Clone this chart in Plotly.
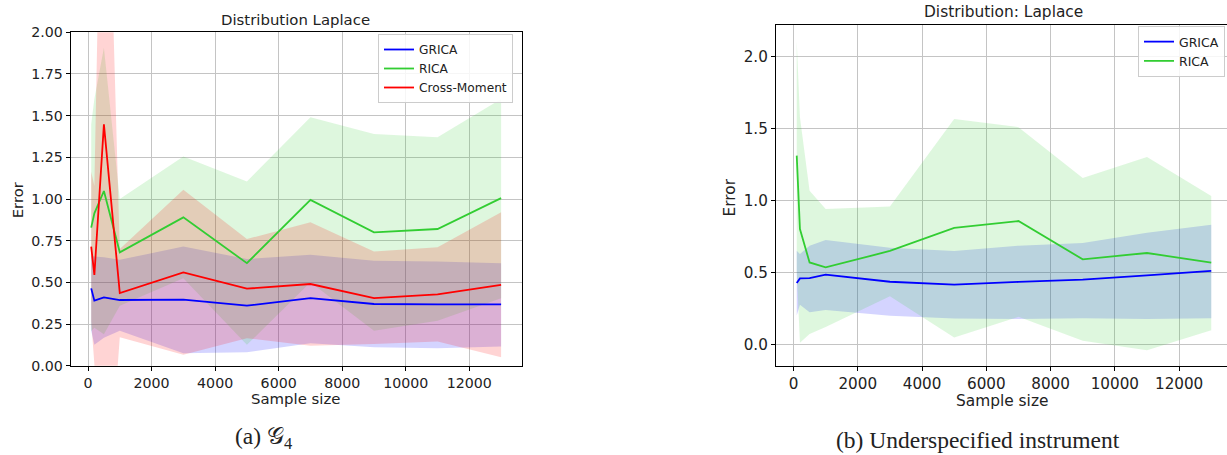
import plotly.graph_objects as go

W, H = 1227, 455

# ---------------- data ----------------
sample_sizes = [100, 200, 500, 1000, 3000, 5000, 7000, 9000, 11000, 13000]

# (a) G4 panel
a_grica_mean = [0.464, 0.390, 0.410, 0.394, 0.396, 0.360, 0.405, 0.370, 0.368, 0.368]
a_grica_up   = [0.660, 0.655, 0.650, 0.635, 0.715, 0.640, 0.665, 0.630, 0.625, 0.615]
a_grica_lo   = [0.210, 0.125, 0.168, 0.210, 0.075, 0.080, 0.135, 0.110, 0.105, 0.115]

a_rica_mean = [0.828, 0.914, 1.048, 0.680, 0.890, 0.615, 0.995, 0.800, 0.820, 1.005]
a_rica_up   = [1.448, 1.600, 1.908, 1.000, 1.255, 1.105, 1.490, 1.390, 1.370, 1.600]
a_rica_lo   = [0.208, 0.228, 0.188, 0.360, 0.525, 0.125, 0.500, 0.210, 0.270, 0.405]

a_cm_mean = [0.714, 0.544, 1.448, 0.436, 0.560, 0.462, 0.490, 0.405, 0.428, 0.485]
a_cm_up   = [1.164, 1.080, 4.040, 0.700, 1.055, 0.760, 0.860, 0.685, 0.710, 0.920]
a_cm_lo   = [0.264, 0.010, -1.140, 0.170, 0.065, 0.165, 0.120, 0.130, 0.145, 0.050]

# (b) Underspecified instrument panel
b_grica_mean = [0.425, 0.457, 0.459, 0.483, 0.434, 0.414, 0.433, 0.449, 0.479, 0.509]
b_grica_up   = [0.650, 0.627, 0.684, 0.724, 0.671, 0.648, 0.685, 0.704, 0.775, 0.831]
b_grica_lo   = [0.200, 0.274, 0.222, 0.237, 0.197, 0.178, 0.175, 0.180, 0.175, 0.180]

b_rica_mean = [1.311, 0.800, 0.568, 0.534, 0.648, 0.808, 0.856, 0.590, 0.634, 0.567]
b_rica_up   = [2.110, 1.578, 1.067, 0.940, 0.958, 1.565, 1.509, 1.155, 1.301, 1.030]
b_rica_lo   = [0.510, 0.010, 0.070, 0.120, 0.333, 0.046, 0.190, 0.023, -0.042, 0.097]

y_ticks_a = [0, 0.25, 0.5, 0.75, 1.0, 1.25, 1.5, 1.75, 2.0]
y_ticks_b = [0.0, 0.5, 1.0, 1.5, 2.0]
x_ticks = [0, 2000, 4000, 6000, 8000, 10000, 12000]

BLUE = "#0000ff"
GREEN = "#32cd32"
RED = "#ff0000"
FILLS = {BLUE: "rgba(0,0,255,0.17)", GREEN: "rgba(50,205,50,0.16)", RED: "rgba(255,0,0,0.17)"}

def px_x(p):
    return p / W

def px_y(p):
    return 1 - p / H

fig = go.Figure()

def add_series(xa, ya, mean, up, lo, color, name, legend):
    fig.add_trace(go.Scatter(
        x=sample_sizes + sample_sizes[::-1], y=up + lo[::-1],
        fill="toself", fillcolor=FILLS[color], line=dict(width=0),
        mode="lines", hoverinfo="skip", showlegend=False, xaxis=xa, yaxis=ya))
    return dict(x=sample_sizes, y=mean, mode="lines", name=name,
                line=dict(color=color, width=1.8), xaxis=xa, yaxis=ya, legend=legend)

lines = []
lines.append(add_series("x", "y", a_grica_mean, a_grica_up, a_grica_lo, BLUE, "GRICA", "legend"))
lines.append(add_series("x", "y", a_rica_mean, a_rica_up, a_rica_lo, GREEN, "RICA", "legend"))
lines.append(add_series("x", "y", a_cm_mean, a_cm_up, a_cm_lo, RED, "Cross-Moment", "legend"))
lines.append(add_series("x2", "y2", b_grica_mean, b_grica_up, b_grica_lo, BLUE, "GRICA", "legend2"))
lines.append(add_series("x2", "y2", b_rica_mean, b_rica_up, b_rica_lo, GREEN, "RICA", "legend2"))
for l in lines:
    fig.add_trace(go.Scatter(**l))

# axis ranges (matplotlib-like 5% margins)
xmin, xmax = min(sample_sizes), max(sample_sizes)
xm = 0.05 * (xmax - xmin)
bmin = min(b_rica_lo + b_grica_lo)
bmax = max(b_rica_up + b_grica_up)
bm = 0.05 * (bmax - bmin)

GRID = "#c4c4c4"
FONT = "DejaVu Sans"

def xaxis_common(fs):
    return dict(tickmode="array", tickvals=x_ticks, tickformat="d", automargin=False,
                showgrid=True, gridcolor=GRID, gridwidth=1.3, zeroline=False,
                showline=True, linecolor="black", linewidth=1.2, mirror=True,
                ticks="outside", ticklen=4, tickcolor="black", tickwidth=1,
                tickfont=dict(family=FONT, size=fs, color="#222"))

def yaxis_common(fs, tv, fmt, mirror):
    return dict(tickmode="array", tickvals=tv, tickformat=fmt, automargin=False,
                showgrid=True, gridcolor=GRID, gridwidth=1.3, zeroline=False,
                showline=True, linecolor="black", linewidth=1.2, mirror=mirror,
                ticks="outside", ticklen=4, tickcolor="black", tickwidth=1,
                tickfont=dict(family=FONT, size=fs, color="#222"))

fig.update_layout(
    width=W, height=H, margin=dict(l=0, r=0, t=0, b=0, autoexpand=False),
    paper_bgcolor="white", plot_bgcolor="white",
    xaxis=dict(domain=[px_x(70.7), px_x(521.6)], range=[xmin - xm, xmax + xm],
               anchor="y", **xaxis_common(14.2)),
    yaxis=dict(domain=[px_y(365.7), px_y(32.3)], range=[0, 2.0], anchor="x",
               **yaxis_common(14.2, y_ticks_a, ".2f", True)),
    xaxis2=dict(domain=[px_x(776), 1.0],
                range=[xmin - xm, (1227 - 793.3) / 0.03215],
                anchor="y2", **xaxis_common(15.2)),
    yaxis2=dict(domain=[px_y(365.7), px_y(25.2)], range=[bmin - bm, bmax + bm],
                anchor="x2", **yaxis_common(15.2, y_ticks_b, ".1f", False)),
    legend=dict(x=px_x(513), y=px_y(34), xanchor="right", yanchor="top",
                bgcolor="rgba(255,255,255,0.85)", bordercolor="#cccccc", borderwidth=1,
                font=dict(family=FONT, size=12.2, color="#222"), itemwidth=30,
                tracegroupgap=0),
    legend2=dict(x=px_x(1225), y=px_y(26), xanchor="right", yanchor="top",
                 bgcolor="rgba(255,255,255,0.85)", bordercolor="#cccccc", borderwidth=1,
                 font=dict(family=FONT, size=12.5, color="#222"), itemwidth=30,
                 tracegroupgap=0),
    showlegend=True,
)

def ann(text, x, y, size, family=FONT, angle=0):
    fig.add_annotation(text=text, x=px_x(x), y=px_y(y), xref="paper", yref="paper",
                       showarrow=False, xanchor="center", yanchor="middle",
                       textangle=angle, font=dict(family=family, size=size, color="#222"))

ann("Distribution Laplace", 295, 20, 14.9)
ann("Sample size", 295, 399, 14.9)
ann("Error", 18.3, 200, 14.9, angle=-90)
ann("Distribution: Laplace", 1003, 12, 15.4)
ann("Sample size", 1002, 401, 15.4)
ann("Error", 729.5, 198, 15.4, angle=-90)
ann("(a) \U0001D4A2<sub>4</sub>", 263, 438, 23.5, family="Liberation Serif")
ann("(b) Underspecified instrument", 978, 440, 23.5, family="Liberation Serif")

fig.write_html("out.html")
